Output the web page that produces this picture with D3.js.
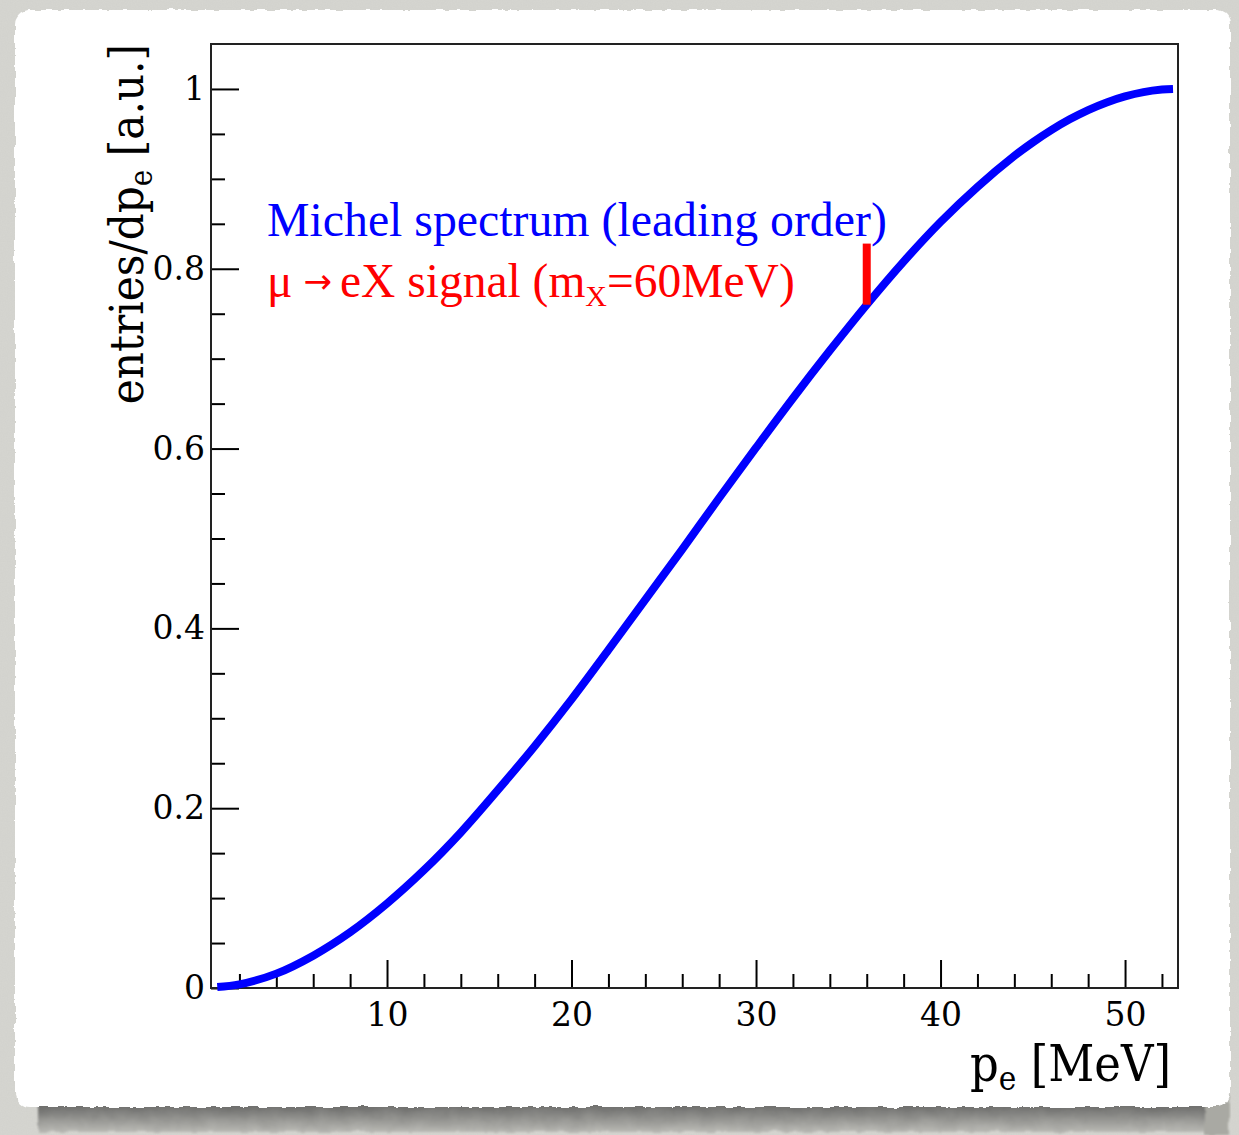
<!DOCTYPE html>
<html>
<head>
<meta charset="utf-8">
<script src="https://cdn.jsdelivr.net/npm/d3@7"></script>
<style>
  html, body { margin: 0; padding: 0; background: #d5d5d0; }
  svg { display: block; }
</style>
</head>
<body>
<svg id="chart" width="1239" height="1135"></svg>
<script>
// Leading-order Michel spectrum, normalised to 1 at the endpoint
const momentum = [0.8, 2, 4, 6, 8, 10, 12, 14, 16, 18, 20, 22, 24, 26, 28, 30,
                  32, 34, 36, 38, 40, 42, 44, 45, 46, 47, 48, 49, 50, 51, 52, 52.6];
const spectrum = [0.001, 0.004, 0.016, 0.036, 0.062, 0.094, 0.131, 0.173, 0.220,
                  0.269, 0.321, 0.376, 0.432, 0.488, 0.545, 0.601, 0.656, 0.709,
                  0.760, 0.808, 0.852, 0.891, 0.9255, 0.9406, 0.9542, 0.9662, 0.9765,
                  0.9850, 0.9917, 0.9965, 0.9993, 1.000];

// Two-body signal line for m_X = 60 MeV
const signalMomentum = [36];
const signalRange = [0.760, 0.828];

// Axis ticks
const xMajorTicks = [10, 20, 30, 40, 50];
const xMinorTicks = [2, 4, 6, 8, 12, 14, 16, 18, 22, 24, 26, 28, 32, 34, 36, 38, 42, 44, 46, 48, 52];
const yMajorTicks = [0, 0.2, 0.4, 0.6, 0.8, 1];
const yMinorTicks = [0.05, 0.1, 0.15, 0.25, 0.3, 0.35, 0.45, 0.5, 0.55, 0.65, 0.7, 0.75, 0.85, 0.9, 0.95];
const yTickLabels = ["0", "0.2", "0.4", "0.6", "0.8", "1"];

const legendLines = ["Michel spectrum (leading order)", "signal"];

const W = 1239, H = 1135;
const frame = { left: 211, right: 1178, top: 44, bottom: 988 };

const svg = d3.select("#chart");
const defs = svg.append("defs");

// Paper texture / torn edge filters
const rough = defs.append("filter").attr("id", "rough")
  .attr("x", "-2%").attr("y", "-2%").attr("width", "104%").attr("height", "104%");
rough.append("feTurbulence").attr("type", "fractalNoise").attr("baseFrequency", "0.09")
  .attr("numOctaves", 3).attr("seed", 4).attr("result", "noise");
rough.append("feDisplacementMap").attr("in", "SourceGraphic").attr("in2", "noise")
  .attr("scale", 5).attr("xChannelSelector", "R").attr("yChannelSelector", "G");

const soft = defs.append("filter").attr("id", "soft")
  .attr("x", "-5%").attr("y", "-50%").attr("width", "110%").attr("height", "200%");
soft.append("feTurbulence").attr("type", "fractalNoise").attr("baseFrequency", "0.06")
  .attr("numOctaves", 3).attr("seed", 9).attr("result", "noise");
soft.append("feDisplacementMap").attr("in", "SourceGraphic").attr("in2", "noise")
  .attr("scale", 6).attr("xChannelSelector", "R").attr("yChannelSelector", "G").attr("result", "d");
soft.append("feGaussianBlur").attr("in", "d").attr("stdDeviation", 1.2);

const grain = defs.append("filter").attr("id", "grain");
grain.append("feTurbulence").attr("type", "fractalNoise").attr("baseFrequency", "0.8")
  .attr("numOctaves", 2).attr("seed", 2);
grain.append("feColorMatrix").attr("type", "matrix")
  .attr("values", "0 0 0 0 0.5  0 0 0 0 0.5  0 0 0 0 0.48  0 0 0 0.18 0");

const shadowGrad = defs.append("linearGradient").attr("id", "shadowGrad")
  .attr("x1", 0).attr("x2", 0).attr("y1", 0).attr("y2", 1);
shadowGrad.append("stop").attr("offset", "0%").attr("stop-color", "#5c5c5a");
shadowGrad.append("stop").attr("offset", "45%").attr("stop-color", "#737371");
shadowGrad.append("stop").attr("offset", "100%").attr("stop-color", "#b9b9b4");

// Background
svg.append("rect").attr("width", W).attr("height", H).attr("fill", "#d6d6d1");
svg.append("rect").attr("width", W).attr("height", H).attr("filter", "url(#grain)");

// Shadow under the sheet
svg.append("rect").attr("x", 38).attr("y", 1088).attr("width", 1176).attr("height", 44)
  .attr("fill", "url(#shadowGrad)").attr("filter", "url(#soft)");
svg.append("rect").attr("x", 1205).attr("y", 1095).attr("width", 24).attr("height", 40)
  .attr("fill", "#a9a9a3").attr("filter", "url(#soft)");

// Sheet
svg.append("rect").attr("x", 15).attr("y", 10).attr("width", 1215).attr("height", 1097)
  .attr("rx", 14).attr("fill", "#ffffff").attr("filter", "url(#rough)");

// Scales
const x = d3.scaleLinear().domain([0.46, 52.87]).range([frame.left, frame.right]);
const y = d3.scaleLinear().domain([0, 1.05]).range([frame.bottom, frame.top]);

const axisFont = "'DejaVu Serif', serif";

// X axis: major ticks with labels, minor ticks without
const gx = svg.append("g").attr("transform", `translate(0,${frame.bottom})`);
gx.call(d3.axisBottom(x).tickValues(xMajorTicks).tickSize(-28).tickPadding(15)
  .tickFormat(d3.format("d")));
gx.append("g").call(d3.axisBottom(x).tickValues(xMinorTicks).tickSize(-14).tickFormat(""));
gx.selectAll(".domain").remove();
gx.selectAll("line").attr("stroke", "#000").attr("stroke-width", 2);
gx.selectAll("text").attr("font-family", axisFont)
  .attr("font-size", 33).attr("fill", "#000");

// Y axis
const gy = svg.append("g").attr("transform", `translate(${frame.left},0)`);
gy.call(d3.axisLeft(y).tickValues(yMajorTicks).tickSize(-28).tickPadding(6)
  .tickFormat((d, i) => yTickLabels[i]));
gy.append("g").call(d3.axisLeft(y).tickValues(yMinorTicks).tickSize(-14).tickFormat(""));
gy.selectAll(".domain").remove();
gy.selectAll("line").attr("stroke", "#000").attr("stroke-width", 2);
gy.selectAll("text").attr("font-family", axisFont)
  .attr("font-size", 33).attr("fill", "#000");

// Frame
svg.append("rect").attr("x", frame.left).attr("y", frame.top)
  .attr("width", frame.right - frame.left).attr("height", frame.bottom - frame.top)
  .attr("fill", "none").attr("stroke", "#222").attr("stroke-width", 2);

// Spectrum curve
const pts = momentum.map((p, i) => [p, spectrum[i]]);
svg.append("path").datum(pts)
  .attr("d", d3.line().x(d => x(d[0])).y(d => y(d[1])).curve(d3.curveCatmullRom.alpha(0.5)))
  .attr("fill", "none").attr("stroke", "#0000ff").attr("stroke-width", 8)
  .attr("stroke-linecap", "butt");

// Signal marker
svg.selectAll(".signal").data(signalMomentum).join("line").attr("class", "signal")
  .attr("x1", d => x(d)).attr("x2", d => x(d))
  .attr("y1", y(signalRange[0])).attr("y2", y(signalRange[1]))
  .attr("stroke", "#ff0000").attr("stroke-width", 8);

// Legend text
const legendFont = "'Liberation Serif', 'Times New Roman', serif";
svg.append("text").attr("x", 267).attr("y", 236)
  .attr("font-family", legendFont).attr("font-size", 47.8).attr("fill", "#0000ff")
  .text(legendLines[0]);

const red = svg.append("text").attr("x", 267).attr("y", 297)
  .attr("font-family", legendFont).attr("font-size", 47.5).attr("fill", "#ff0000");
red.append("tspan").text("μ");
red.append("tspan").attr("font-family", "'DejaVu Sans', sans-serif").attr("font-size", 34)
  .attr("dx", 11).attr("dy", -4).text("→");
red.append("tspan").attr("dx", 8).attr("dy", 4).text("eX " + legendLines[1] + " (m");
red.append("tspan").attr("font-size", 30).attr("dy", 9).text("X");
red.append("tspan").attr("dy", -9).text("=60MeV)");

// Axis titles
const xt = svg.append("text").attr("x", 1171).attr("y", 1081).attr("text-anchor", "end")
  .attr("font-family", axisFont).attr("font-stretch", "condensed")
  .attr("font-size", 50).attr("fill", "#000");
xt.append("tspan").text("p");
xt.append("tspan").attr("font-size", 33).attr("dy", 9).text("e");
xt.append("tspan").attr("dy", -9).text(" [MeV]");

const yt = svg.append("text")
  .attr("transform", `translate(143,${frame.top}) rotate(-90)`)
  .attr("text-anchor", "end")
  .attr("font-family", axisFont).attr("font-stretch", "condensed")
  .attr("font-size", 47).attr("fill", "#000");
yt.append("tspan").text("entries/dp");
yt.append("tspan").attr("font-size", 31).attr("dy", 9).text("e");
yt.append("tspan").attr("dy", -9).text(" [a.u.]");
</script>
</body>
</html>
